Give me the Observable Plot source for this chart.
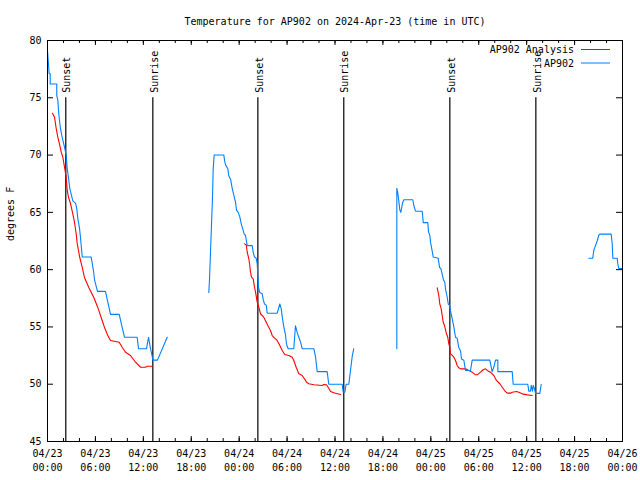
<!DOCTYPE html>
<html><head><meta charset="utf-8">
<script src="https://cdn.jsdelivr.net/npm/d3@7"></script>
<script src="https://cdn.jsdelivr.net/npm/@observablehq/plot@0.6"></script>
<style>body{margin:0;background:#fff}</style>
</head><body><div id="chart"></div>
<script>
const title = "Temperature for AP902 on 2024-Apr-23 (time in UTC)";
const yLabel = "degrees F";
const seriesNames = ["AP902 Analysis", "AP902"];
const seriesColors = ["#ff0000", "#0080ff"];
const yTicks = [45, 50, 55, 60, 65, 70, 75, 80];
const sunHours = [2.29, 13.19, 26.34, 37.10, 50.38, 61.15];
const sunLabels = ["Sunset", "Sunrise", "Sunset", "Sunrise", "Sunset", "Sunrise"];

// [hours since 2024-04-23 00:00 UTC, degrees F]
const obsSeg1 = [[0,79.1],[0.21,77.1],[0.34,77.1],[0.34,76.2],[1.16,76.2],[1.16,75.2],[1.29,74.8],[1.38,73.9],[1.50,73.0],[1.63,72.3],[1.79,71.7],[1.92,71.3],[2.13,70.7],[2.34,70.0],[2.47,68.8],[2.63,68.0],[2.79,67.1],[3.17,66.0],[3.51,65.8],[3.67,65.3],[3.79,64.5],[4.01,63.6],[4.13,62.8],[4.35,61.1],[5.47,61.1],[5.76,59.9],[5.89,59.1],[6.26,58.1],[7.26,58.1],[7.89,56.1],[8.98,56.1],[9.27,55.2],[9.64,54.1],[11.23,54.1],[11.40,53.1],[12.40,53.1],[12.65,54.1],[12.90,53.1],[13.21,52.1],[13.77,52.1],[14.99,54.1]];
const obsSeg2 = [[20.20,58.0],[20.29,59.2],[20.41,61.5],[20.54,64.0],[20.66,66.3],[20.75,68.8],[20.87,70.0],[22.08,70.0],[22.20,69.4],[22.33,69.1],[22.58,68.8],[22.70,68.2],[22.92,67.9],[23.13,67.1],[23.33,66.5],[23.54,65.9],[23.67,65.2],[23.88,65.0],[24.08,64.6],[24.26,64.0],[24.51,63.4],[24.63,63.1],[24.79,63.0],[25.01,62.1],[25.63,62.1],[25.76,61.5],[25.92,61.1],[26.13,61.0],[26.26,60.5],[26.33,59.6],[26.42,58.5],[26.58,58.0],[26.88,57.9],[27.01,57.4],[27.17,57.0],[27.39,56.9],[27.51,56.2],[28.76,56.2],[29.09,57.0],[29.26,56.6],[29.43,55.7],[29.59,55.0],[29.80,54.3],[29.93,53.5],[30.14,53.1],[30.84,53.1],[31.05,55.1],[31.27,54.5],[31.47,54.1],[31.68,53.7],[31.89,53.1],[33.35,53.1],[33.56,52.4],[33.77,51.1],[35.02,51.1],[35.22,50.0],[36.90,50.0],[37.03,49.3],[37.23,49.3],[37.40,50.0],[37.73,50.0],[37.94,51.2],[38.15,52.4],[38.35,53.1]];
const obsSeg3 = [[43.74,53.1],[43.74,67.1],[43.86,66.7],[43.99,66.0],[44.12,65.2],[44.24,65.0],[44.33,65.3],[44.45,65.8],[44.62,66.1],[45.74,66.1],[45.87,65.6],[46.08,65.1],[46.92,65.1],[47.05,64.1],[47.62,64.1],[47.71,63.3],[47.87,63.0],[47.96,62.4],[48.12,61.8],[48.30,61.1],[48.92,61.0],[49.09,60.2],[49.25,60.1],[49.42,59.6],[49.59,59.1],[49.75,58.9],[49.84,58.3],[50.05,57.6],[50.18,57.0],[50.34,56.9],[50.46,56.4],[50.68,55.7],[50.88,55.0],[51.09,54.1],[51.30,54.0],[51.50,53.2],[51.72,52.9],[51.84,52.2],[52.13,52.1],[52.34,51.2],[52.97,51.2],[53.18,52.1],[55.38,52.1],[55.56,51.5],[55.68,51.1],[55.89,51.5],[56.10,52.1],[56.39,52.1],[56.39,51.1],[58.19,51.1],[58.31,50.0],[60.14,50.0],[60.27,49.4],[60.48,49.4],[60.57,49.9],[60.73,49.4],[60.82,49.9],[60.98,49.6],[61.11,49.2],[61.65,49.2],[61.82,50.0]];
const obsSeg4 = [[67.78,61.0],[68.28,61.0],[68.41,61.7],[68.62,62.1],[68.83,62.5],[69.03,63.0],[69.16,63.1],[70.58,63.1],[70.71,62.3],[70.79,61.0],[71.34,61.0],[71.41,60.5],[71.54,60.1],[71.91,60.1]];

const anaSeg1 = [[0.63,73.65],[0.88,73.31],[1.09,72.32],[1.29,71.56],[1.50,70.98],[1.72,70.25],[1.92,69.81],[2.13,68.94],[2.34,68.07],[2.47,66.91],[2.63,66.32],[2.88,65.77],[3.17,64.87],[3.38,64.14],[3.59,63.13],[3.72,62.28],[4.04,61.06],[4.35,60.19],[4.63,59.31],[5.17,58.44],[5.80,57.57],[6.30,56.70],[6.72,55.82],[7.14,54.95],[7.55,54.25],[7.89,53.82],[8.98,53.67],[9.35,53.23],[9.77,52.79],[10.39,52.51],[11.02,51.92],[11.65,51.48],[12.27,51.48],[12.48,51.57],[13.11,51.57]];
const anaSeg2 = [[24.67,62.25],[24.88,62.17],[25.01,61.52],[25.21,60.95],[25.33,60.36],[25.42,59.78],[25.54,59.34],[25.76,59.20],[25.92,58.47],[26.05,58.03],[26.26,57.16],[26.46,56.72],[26.67,56.15],[27.08,55.85],[27.59,55.12],[27.92,54.69],[28.14,54.25],[28.42,54.05],[28.76,53.82],[29.09,53.38],[29.39,52.94],[29.71,52.59],[30.22,52.51],[30.64,52.36],[30.84,52.07],[31.14,51.48],[31.47,50.91],[31.89,50.76],[32.18,50.47],[32.43,50.18],[32.72,50.04],[33.35,49.95],[34.40,49.89],[34.60,49.97],[34.94,49.95],[35.22,49.65],[35.44,49.36],[36.06,49.21],[36.69,49.10]];
const anaSeg3 = [[48.80,58.41],[49.00,57.74],[49.12,57.02],[49.30,56.58],[49.42,56.00],[49.55,55.41],[49.71,55.12],[49.96,54.40],[50.12,54.10],[50.25,53.53],[50.38,53.23],[50.46,52.65],[50.68,52.51],[50.88,52.36],[51.09,52.07],[51.30,51.63],[51.50,51.43],[51.72,51.34],[52.34,51.34],[52.76,51.20],[53.18,51.05],[53.59,50.82],[53.81,50.82],[54.22,51.05],[54.56,51.26],[54.85,51.34],[55.06,51.20],[55.47,51.05],[55.68,50.91],[55.89,50.76],[56.10,50.47],[56.31,50.26],[56.64,50.04],[56.94,49.74],[57.23,49.45],[57.56,49.22],[57.98,49.22],[58.19,49.30],[58.73,49.36],[59.02,49.30],[59.44,49.16],[60.07,49.07],[60.69,49.01]];

const t0 = Date.UTC(2024, 3, 23);
const toDate = h => new Date(t0 + h * 3600e3);
const xStart = toDate(0), xEnd = toDate(72);

function rows(segs, series) {
  return segs.flatMap((seg, i) => seg.map(([h, v]) => ({date: toDate(h), temp: v, seg: series + i})));
}
const obsRows = rows([obsSeg1, obsSeg2, obsSeg3, obsSeg4], "obs");
const anaRows = rows([anaSeg1, anaSeg2, anaSeg3], "ana");
const sunRows = sunHours.map((h, i) => ({date: toDate(h), label: sunLabels[i]}));

const majorTicks = d3.utcHour.every(6).range(xStart, new Date(+xEnd + 1));
const minorTicks = d3.utcHour.every(2).range(xStart, new Date(+xEnd + 1));

const W = 640, H = 480, mL = 47, mR = 18, mT = 40, mB = 39;
const fw = W - mL - mR, fh = H - mT - mB;

function legend(index, scales, values, dims) {
  const g = d3.create("svg:g").attr("font-size", 10).attr("font-family", "DejaVu Sans Mono");
  const right = dims.width - dims.marginRight;
  seriesNames.forEach((name, i) => {
    const y = dims.marginTop + 9.5 + i * 13.5;
    g.append("text").attr("x", right - 48).attr("y", y).attr("dy", "0.35em")
      .attr("text-anchor", "end").attr("fill", "black").text(name);
    g.append("line").attr("x1", right - 41).attr("x2", right - 12)
      .attr("y1", y).attr("y2", y).attr("stroke", seriesColors[i]).attr("stroke-width", 1);
  });
  return g.node();
}

const chart = Plot.plot({
  width: W, height: H,
  marginLeft: mL, marginRight: mR, marginTop: mT, marginBottom: mB,
  style: {fontFamily: "DejaVu Sans Mono", fontSize: "10px", background: "white", color: "black"},
  x: {type: "utc", domain: [xStart, xEnd]},
  y: {domain: [45, 80]},
  marks: [
    Plot.axisY(yTicks, {anchor: "left", tickSize: 0, tickPadding: 6, label: null}),
    Plot.axisX(majorTicks, {anchor: "bottom", tickSize: 0, tickPadding: 5, lineHeight: 1.45,
      tickFormat: d3.utcFormat("%m/%d\n%H:%M"), label: null}),
    Plot.tickY(yTicks, {y: d => d, insetRight: fw - 6, stroke: "black"}),
    Plot.tickY(yTicks, {y: d => d, insetLeft: fw - 6, stroke: "black"}),
    Plot.tickX(majorTicks, {x: d => d, insetTop: fh - 5, stroke: "black"}),
    Plot.tickX(majorTicks, {x: d => d, insetBottom: fh - 5, stroke: "black"}),
    Plot.tickX(minorTicks, {x: d => d, insetTop: fh - 3, stroke: "black"}),
    Plot.tickX(minorTicks, {x: d => d, insetBottom: fh - 3, stroke: "black"}),
    Plot.ruleX(sunRows, {x: "date", y1: 45, y2: 75, stroke: "black", strokeWidth: 1.2}),
    Plot.text(sunRows, {x: "date", y: 75, text: "label", rotate: -90, textAnchor: "start", dy: -5, dx: 1.5, fill: "black"}),
    Plot.line(anaRows, {x: "date", y: "temp", z: "seg", stroke: seriesColors[0], strokeWidth: 1.1}),
    Plot.line(obsRows, {x: "date", y: "temp", z: "seg", stroke: seriesColors[1], strokeWidth: 1.1}),
    Plot.frame({stroke: "black"}),
    Plot.text([title], {frameAnchor: "top", dy: -23, fill: "black"}),
    Plot.text([yLabel], {frameAnchor: "left", rotate: -90, dx: -37, fill: "black"}),
    legend
  ]
});
document.getElementById("chart").appendChild(chart);
</script>
</body></html>
